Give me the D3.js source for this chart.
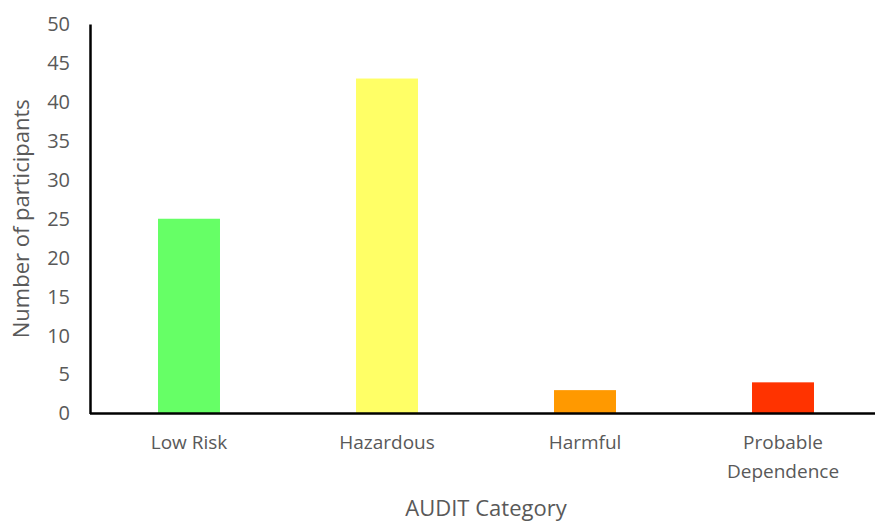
<!DOCTYPE html>
<html>
<head>
<meta charset="utf-8">
<script src="https://cdn.jsdelivr.net/npm/d3@7"></script>
<style>
body { margin: 0; background: #fff; }
text { font-family: "Open Sans", "Noto Sans", sans-serif; fill: #595959; }
</style>
</head>
<body>
<div id="chart"></div>
<script>
var categories = [["Low Risk"], ["Hazardous"], ["Harmful"], ["Probable", "Dependence"]];
var values = [25, 43, 3, 4];
var colors = ["#66ff66", "#ffff66", "#ff9900", "#ff3300"];
var yTicks = [0, 5, 10, 15, 20, 25, 30, 35, 40, 45, 50];

var width = 875, height = 521;
// note: "top" is taken by window.top, so use other names
var plotLeft = 90, plotRight = 882, plotTop = 24, plotBottom = 413.5;

var svg = d3.select("#chart").append("svg")
	.attr("width", width)
	.attr("height", height);

var x = d3.scaleBand()
	.domain(d3.range(categories.length))
	.range([plotLeft, plotRight])
	.paddingInner(0.687)
	.paddingOuter(0.3435);

var y = d3.scaleLinear()
	.domain([0, 50])
	.range([plotBottom, plotTop]);

// bars
svg.selectAll("rect.bar")
	.data(values)
	.enter()
	.append("rect")
	.attr("class", "bar")
	.attr("x", function(d, i) { return x(i); })
	.attr("y", function(d) { return y(d); })
	.attr("width", x.bandwidth())
	.attr("height", function(d) { return y(0) - y(d); })
	.attr("fill", function(d, i) { return colors[i]; });

// y axis
var yAxis = svg.append("g")
	.attr("transform", "translate(" + plotLeft + ",0)")
	.call(d3.axisLeft(y).tickValues(yTicks).tickSize(0).tickPadding(20));
yAxis.select(".domain").attr("stroke", "#000").attr("stroke-width", 2.5);
yAxis.selectAll("text")
	.style("font-size", "20px")
	.attr("fill", "#595959");

// x axis
var xAxis = svg.append("g")
	.attr("transform", "translate(0," + plotBottom + ")")
	.call(d3.axisBottom(x).tickSize(0).tickFormat(""));
xAxis.select(".domain").attr("stroke", "#000").attr("stroke-width", 2.5)
	.attr("d", "M" + plotLeft + ",0H" + plotRight);

xAxis.selectAll(".tick").each(function(d) {
	var t = d3.select(this).append("text")
		.attr("text-anchor", "middle")
		.style("font-size", "19px")
		.attr("fill", "#595959");
	categories[d].forEach(function(line, j) {
		t.append("tspan")
			.attr("x", 0)
			.attr("y", 35 + j * 29)
			.text(line);
	});
});

// axis titles
svg.append("text")
	.attr("transform", "translate(29," + ((plotTop + plotBottom) / 2) + ") rotate(-90)")
	.attr("text-anchor", "middle")
	.style("font-size", "22px")
	.text("Number of participants");

svg.append("text")
	.attr("x", (plotLeft + plotRight) / 2)
	.attr("y", 516)
	.attr("text-anchor", "middle")
	.style("font-size", "22px")
	.text("AUDIT Category");
</script>
</body>
</html>
